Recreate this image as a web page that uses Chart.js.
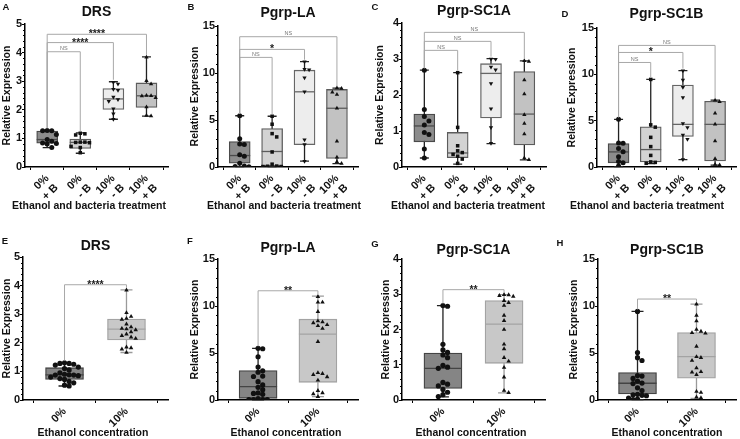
<!DOCTYPE html>
<html><head><meta charset="utf-8">
<script src="https://cdn.jsdelivr.net/npm/chart.js@4"></script>
<style>
html,body{margin:0;padding:0;background:#fff;}
#root{position:relative;width:740px;height:439px;overflow:hidden;background:#fff;}
.lt{position:absolute;font:bold 9.5px "Liberation Sans",Arial,sans-serif;color:#111;transform:translate(-50%,-50%);}
</style></head>
<body><div id="root"></div>
<script>
// ---------- categories ----------
const topCats = [['0%','+ B'],['0%','- B'],['10%','- B'],['10%','+ B']];
const bottomCats = ['0%','10%'];
const yAxisTitle = 'Relative Expression';
const topXTitle = 'Ethanol and bacteria treatment';
const bottomXTitle = 'Ethanol concentration';

// ---------- box stats: [min, q1, median, q3, max] ----------
const A_box = [[0.68,0.83,0.96,1.26,1.29],[0.48,0.65,0.86,0.98,1.19],[1.67,2.01,2.38,2.74,2.98],[1.78,2.08,2.49,2.94,3.85]];
const B_box = [[0.03,0.4,1.22,2.7,5.45],[0.05,0.12,1.65,4.1,5.4],[0.62,2.38,8.0,10.3,11.2],[0.36,0.9,6.25,8.25,8.4]];
const C_box = [[0.25,0.7,1.14,1.47,2.69],[0.08,0.26,0.39,0.96,2.62],[0.65,1.36,2.6,2.87,3.01],[0.2,0.61,1.47,2.65,2.95]];
const D_box = [[0.05,0.45,1.63,2.53,5.15],[0.38,0.54,1.88,4.34,9.45],[0.8,3.3,4.6,8.85,10.4],[0.2,0.65,4.6,7.1,7.22]];
const E_box = [[0.49,0.72,0.88,1.13,1.31],[1.66,2.1,2.48,2.83,3.85]];
const F_box = [[0.02,0.18,1.42,3.13,5.5],[0.35,1.88,7.0,8.6,11.05]];
const G_box = [[0.09,0.33,0.9,1.33,2.68],[0.2,1.04,2.15,2.82,2.99]];
const H_box = [[0.03,0.64,1.78,2.92,9.42],[0.18,2.31,4.62,7.18,10.2]];

// ---------- individual points ----------
const A_pts = [[1.28,1.27,1.27,1.14,0.96,0.9,0.84,0.82,0.8,0.68],[1.18,1.16,1.12,0.87,0.87,0.86,0.85,0.72,0.68,0.5],[2.96,2.9,2.72,2.68,2.45,2.36,2.3,2.04,1.86,1.67],[3.84,3.02,2.9,2.5,2.49,2.48,2.42,2.1,1.8,1.78]];
const B_pts = [[5.45,3.0,2.45,2.4,1.3,1.15,0.4,0.1,0.05,0.03],[5.4,4.55,3.55,3.2,1.6,0.3,0.1,0.08,0.05,0.05],[11.2,10.4,10.35,9.5,8.0,2.9,2.4,0.62],[8.4,8.35,7.95,7.7,6.25,2.75,1.05,0.55,0.38]];
const C_pts = [[2.69,1.6,1.4,1.28,1.17,0.96,0.9,0.5,0.25],[2.62,1.1,0.59,0.45,0.4,0.35,0.3,0.22,0.1],[3.0,2.99,2.78,2.7,2.32,1.62,1.1,0.66],[2.95,2.93,2.42,2.03,1.45,1.21,0.92,0.25,0.2]];
const D_pts = [[5.15,2.6,2.55,2.0,1.65,1.1,0.6,0.45,0.1],[9.45,4.55,4.3,3.2,2.2,1.25,0.55,0.5,0.4],[10.4,9.4,8.6,7.5,4.7,4.25,3.45,3.0,0.8],[7.2,7.05,5.8,4.6,2.8,0.9,0.28,0.22]];
const E_pts = [[1.3,1.28,1.28,1.25,1.22,1.15,1.1,1.05,0.95,0.9,0.88,0.87,0.87,0.85,0.8,0.75,0.72,0.65,0.6,0.52,0.49],[3.84,3.05,2.92,2.85,2.82,2.65,2.55,2.5,2.48,2.45,2.38,2.3,2.25,2.2,2.15,1.85,1.82,1.78,1.66]];
const F_pts = [[5.5,5.45,4.6,3.5,3.1,2.95,2.55,2.5,1.95,1.6,1.35,1.1,0.75,0.7,0.6,0.15,0.05,0.05,0.05,0.03],[11.0,10.4,10.4,9.4,8.4,8.3,8.2,8.0,7.9,7.6,6.2,2.9,2.8,2.7,2.45,2.1,1.0,0.75,0.65,0.35]];
const G_pts = [[2.68,2.66,1.58,1.42,1.35,1.28,1.2,0.98,0.93,0.9,0.5,0.45,0.4,0.3,0.22,0.15,0.1],[2.99,2.98,2.96,2.94,2.82,2.76,2.68,2.4,2.25,2.0,1.58,1.45,1.2,1.1,0.92,0.65,0.27,0.21]];
const H_pts = [[9.42,5.05,4.5,4.2,2.6,2.55,2.3,2.0,1.8,1.75,1.3,1.0,0.6,0.55,0.5,0.45,0.2,0.1,0.05],[10.2,9.0,8.4,7.5,7.3,7.15,7.1,5.7,4.6,4.5,4.2,3.4,3.0,2.95,2.7,0.9,0.8,0.3,0.22]];

// ---------- significance brackets: [fromCat, toCat, level, label] ----------
const A_sig = [[1,2,4.03,'NS'],[1,3,4.35,'****'],[1,4,4.64,'****']];
const B_sig = [[1,2,11.66,'NS'],[1,3,12.51,'*'],[1,4,13.86,'NS']];
const C_sig = [[1,2,3.24,'NS'],[1,3,3.49,'NS'],[1,4,3.74,'NS']];
const D_sig = [[1,2,11.28,'NS'],[1,3,12.36,'*'],[1,4,13.12,'NS']];
const E_sig = [[1,2,4.03,'****']];
const F_sig = [[1,2,11.62,'**']];
const G_sig = [[1,2,3.13,'**']];
const H_sig = [[1,2,10.74,'**']];

// ---------- layout / style (not data) ----------
const FONT = '"Liberation Sans", Arial, sans-serif';
Chart.defaults.font.family = FONT;
Chart.defaults.color = '#111';

const topStyle = {
  fills:['#8c8c8c','#d3d3d3','#ededed','#c2c2c2'],
  borders:['#4a4a4a','#5c5c5c','#666666','#5c5c5c'],
  whisk:['#222','#222','#222','#222'],
  shapes:['circle','rect','triangle','triangle'], rot:[0,0,180,0],
  boxW:21, capW:9, dot:4.6, rad:2.5, xmin:0.33, xmax:4.65
};
const botStyle = {
  fills:['#858585','#c8c8c8'],
  borders:['#444444','#a3a3a3'],
  whisk:['#222','#9a9a9a'],
  shapes:['circle','triangle'], rot:[0,0],
  boxW:38, capW:12, dot:4.6, rad:2.6, xmin:0.33, xmax:2.67
};

const panels = [
  {L:'A',lx:6,ly:6,title:'DRS',x:0,y:0,w:185,h:220,l:25,r:168,t:24,b:167,tc:12,ytc:7.5,xt:topXTitle,xtx:89,xty:206,ymax:5,step:1,minor:0.2,cats:topCats,box:A_box,pts:A_pts,sig:A_sig,st:topStyle},
  {L:'B',lx:191,ly:6,title:'Pgrp-LA',x:185,y:0,w:185,h:220,l:33,r:173,t:26,b:167,tc:13,ytc:10,xt:topXTitle,xtx:99,xty:206,ymax:15,step:5,minor:1,cats:topCats,box:B_box,pts:B_pts,sig:B_sig,st:topStyle},
  {L:'C',lx:375,ly:6,title:'Pgrp-SC1A',x:370,y:0,w:185,h:220,l:32,r:176,t:23,b:167,tc:11,ytc:10,xt:topXTitle,xtx:98,xty:206,ymax:4,step:1,minor:0.2,cats:topCats,box:C_box,pts:C_pts,sig:C_sig,st:topStyle},
  {L:'D',lx:565,ly:13,title:'Pgrp-SC1B',x:555,y:0,w:185,h:220,l:42,r:183,t:28,b:167,tc:14,ytc:17,xt:topXTitle,xtx:92,xty:206,ymax:15,step:5,minor:1,cats:topCats,box:D_box,pts:D_pts,sig:D_sig,st:topStyle},
  {L:'E',lx:5,ly:240,title:'DRS',x:0,y:220,w:185,h:219,l:23,r:168,t:37,b:180,tc:26,ytc:7.5,xt:bottomXTitle,xtx:93,xty:213,ymax:5,step:1,minor:0.2,cats:bottomCats,box:E_box,pts:E_pts,sig:E_sig,st:botStyle},
  {L:'F',lx:190,ly:240,title:'Pgrp-LA',x:185,y:220,w:185,h:219,l:33,r:173,t:39,b:180,tc:28,ytc:10,xt:bottomXTitle,xtx:101,xty:213,ymax:15,step:5,minor:1,cats:bottomCats,box:F_box,pts:F_pts,sig:F_sig,st:botStyle},
  {L:'G',lx:375,ly:243,title:'Pgrp-SC1A',x:370,y:220,w:185,h:219,l:32,r:175,t:39,b:180,tc:30,ytc:16,xt:bottomXTitle,xtx:101,xty:213,ymax:4,step:1,minor:0.2,cats:bottomCats,box:G_box,pts:G_pts,sig:G_sig,st:botStyle},
  {L:'H',lx:560,ly:242,title:'Pgrp-SC1B',x:555,y:220,w:185,h:219,l:43,r:185,t:39,b:180,tc:30,ytc:19,xt:bottomXTitle,xtx:112,xty:213,ymax:15,step:5,minor:1,cats:bottomCats,box:H_box,pts:H_pts,sig:H_sig,st:botStyle}
];

// horizontal spread of points (beeswarm layout, pixels -> axis units)
function swarm(vals, center, pxX, pxY, d) {
  const order = vals.map((v,i)=>i).sort((a,b)=>vals[b]-vals[a]);
  const placed = []; const xs = new Array(vals.length).fill(center);
  for (const i of order) {
    const y = vals[i]*pxY;
    for (let k=0;k<16;k++) {
      const s = k===0 ? 0 : (k%2 ? Math.ceil(k/2) : -Math.ceil(k/2));
      const x = s*d;
      if (placed.every(p => Math.hypot(p.x-x, p.y-y) >= d*0.98)) { placed.push({x,y}); xs[i] = center + x/pxX; break; }
    }
  }
  return xs;
}

const root = document.getElementById('root');

function makeChart(p) {
  const st = p.st;
  const cv = document.createElement('canvas');
  cv.width = p.w; cv.height = p.h;
  cv.style.cssText = `position:absolute;left:${p.x}px;top:${p.y}px;width:${p.w}px;height:${p.h}px;`;
  root.appendChild(cv);
  const lt = document.createElement('div');
  lt.className = 'lt'; lt.textContent = p.L;
  lt.style.left = p.lx + 'px'; lt.style.top = p.ly + 'px';
  root.appendChild(lt);

  const pxX = (p.r - p.l)/(st.xmax - st.xmin), pxY = (p.b - p.t)/p.ymax;
  const datasets = [{
    type:'bar',
    data: p.box.map((b,i)=>({x:i+1, y:[b[1], b[3]]})),
    backgroundColor: st.fills, borderColor: st.borders, borderWidth: 1.3,
    borderSkipped: false, barThickness: st.boxW, order: 5
  }];
  p.pts.forEach((vals,i)=>{
    const xs = swarm(vals, i+1, pxX, pxY, st.dot);
    datasets.push({
      type:'scatter', data: vals.map((v,j)=>({x:xs[j], y:v})),
      pointStyle: st.shapes[i], pointRotation: st.rot[i], pointRadius: st.rad,
      backgroundColor:'#111', borderColor:'#111', borderWidth:0, order:1
    });
  });

  const boxPlugin = {
    id:'boxparts',
    beforeDatasetsDraw(chart) {
      const {ctx, scales:{x, y}} = chart;
      ctx.save();
      p.box.forEach((b,i)=>{
        const cx = x.getPixelForValue(i+1);
        ctx.strokeStyle = st.whisk[i]; ctx.lineWidth = 1.3;
        ctx.beginPath();
        ctx.moveTo(cx, y.getPixelForValue(b[0])); ctx.lineTo(cx, y.getPixelForValue(b[4]));
        for (const v of [b[0], b[4]]) {
          const py = y.getPixelForValue(v);
          ctx.moveTo(cx - st.capW/2, py); ctx.lineTo(cx + st.capW/2, py);
        }
        ctx.stroke();
      });
      ctx.restore();
    },
    afterDatasetDraw(chart, args) {
      if (args.index !== 0) return;
      const {ctx, scales:{x, y}} = chart;
      ctx.save();
      p.box.forEach((b,i)=>{
        const cx = x.getPixelForValue(i+1), py = y.getPixelForValue(b[2]);
        ctx.strokeStyle = st.borders[i]; ctx.lineWidth = 1.3;
        ctx.beginPath(); ctx.moveTo(cx - st.boxW/2, py); ctx.lineTo(cx + st.boxW/2, py); ctx.stroke();
      });
      ctx.restore();
    },
    afterDraw(chart) {
      const {ctx, scales:{x, y}, chartArea} = chart;
      ctx.save();
      // minor ticks on y axis
      ctx.strokeStyle = '#000'; ctx.lineWidth = 1;
      ctx.beginPath();
      for (let k = 1; k*p.minor < p.ymax - 1e-9; k++) {
        const v = k*p.minor;
        if (Math.abs(v/p.step - Math.round(v/p.step)) < 1e-6) continue;
        const py = Math.round(y.getPixelForValue(v)) + 0.5;
        ctx.moveTo(chartArea.left - 2, py); ctx.lineTo(chartArea.left, py);
      }
      ctx.stroke();
      // significance brackets
      p.sig.forEach(([a,bb,lev,lab])=>{
        const x1 = x.getPixelForValue(a), x2 = x.getPixelForValue(bb), py = y.getPixelForValue(lev);
        const ya = y.getPixelForValue(p.box[a-1][4]) - 2, yb = y.getPixelForValue(p.box[bb-1][4]) - 2;
        ctx.strokeStyle = '#a8a8a8'; ctx.lineWidth = 1;
        ctx.beginPath(); ctx.moveTo(x1, ya); ctx.lineTo(x1, py); ctx.lineTo(x2, py); ctx.lineTo(x2, yb); ctx.stroke();
        ctx.textAlign = 'center'; ctx.textBaseline = 'alphabetic';
        if (lab === 'NS') { ctx.font = '5.5px ' + FONT; ctx.fillStyle = '#777'; ctx.fillText(lab, (x1+x2)/2, py - 1.5); }
        else { ctx.font = 'bold 10.5px ' + FONT; ctx.fillStyle = '#222'; ctx.fillText(lab, (x1+x2)/2, py + 3); }
      });
      // x-axis title
      ctx.font = 'bold 10.5px ' + FONT; ctx.fillStyle = '#111';
      ctx.textAlign = 'center'; ctx.textBaseline = 'middle';
      ctx.fillText(p.xt, p.xtx, p.xty);
      ctx.restore();
    }
  };

  const zeroPad = s => { s.paddingLeft = 0; s.paddingRight = 0; s.paddingTop = 0; s.paddingBottom = 0; };
  const pt = p.tc - 8.4;
  new Chart(cv, {
    type:'bar',
    data:{datasets},
    options:{
      responsive:false, animation:false, devicePixelRatio:1,
      layout:{padding:{left:0, top:0, right:p.w - p.r, bottom:0}},
      plugins:{
        legend:{display:false}, tooltip:{enabled:false},
        title:{display:true, text:p.title, fullSize:false, color:'#111',
          font:{size:14, weight:'bold'}, padding:{top:pt, bottom:p.t - 16.8 - pt}}
      },
      scales:{
        x:{type:'linear', min:st.xmin, max:st.xmax, offset:false,
          afterBuildTicks: s => { s.ticks = p.cats.map((c,i)=>({value:i+1})); },
          afterFit: s => { s.height = p.h - p.b; zeroPad(s); },
          ticks:{autoSkip:false, minRotation:45, maxRotation:45, padding:2, color:'#111',
            font:{size:11, weight:'bold'}, callback: v => p.cats[Math.round(v)-1]},
          grid:{drawOnChartArea:false, drawTicks:true, tickLength:3, color:'#000', lineWidth:1},
          border:{color:'#000', width:1.5}
        },
        y:{min:0, max:p.ymax,
          afterFit: s => { s.width = p.l; zeroPad(s); },
          ticks:{stepSize:p.step, padding:0, color:'#111', font:{size:11, weight:'bold'}},
          grid:{drawOnChartArea:false, drawTicks:true, tickLength:3, color:'#000', lineWidth:1},
          border:{color:'#000', width:1.5},
          title:{display:true, text:yAxisTitle, color:'#111', font:{size:10.5, weight:'bold'},
            padding:{top:p.ytc - 6.3, bottom:0}}
        }
      }
    },
    plugins:[boxPlugin]
  });
}
panels.forEach(makeChart);
</script>
</body></html>
